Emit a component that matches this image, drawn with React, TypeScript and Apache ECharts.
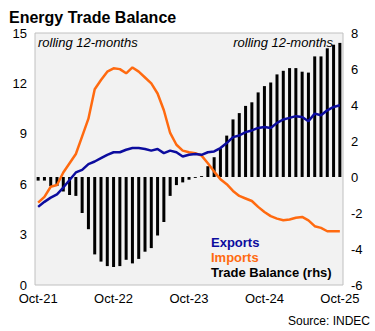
import React, { useEffect, useRef } from "react";
import * as echarts from "echarts";

const months = [
  "Oct-21","Nov-21","Dec-21","Jan-22","Feb-22","Mar-22","Apr-22","May-22","Jun-22","Jul-22","Aug-22","Sep-22",
  "Oct-22","Nov-22","Dec-22","Jan-23","Feb-23","Mar-23","Apr-23","May-23","Jun-23","Jul-23","Aug-23","Sep-23",
  "Oct-23","Nov-23","Dec-23","Jan-24","Feb-24","Mar-24","Apr-24","May-24","Jun-24","Jul-24","Aug-24","Sep-24",
  "Oct-24","Nov-24","Dec-24","Jan-25","Feb-25","Mar-25","Apr-25","May-25","Jun-25","Jul-25","Aug-25","Sep-25",
  "Oct-25",
];

const exportsData = [
  4.65, 4.95, 5.2, 5.4, 5.8, 6.25, 6.7, 6.85, 7.2, 7.35, 7.55, 7.75,
  7.9, 7.9, 8.05, 8.15, 8.15, 8.1, 8.0, 8.1, 7.85, 8.0, 7.9, 7.65,
  7.75, 7.8, 7.75, 7.9, 7.95, 8.15, 8.45, 8.8, 8.9, 9.1, 9.2, 9.35,
  9.4, 9.35, 9.65, 9.85, 9.95, 10.05, 10.0, 9.75, 10.2, 10.1, 10.4, 10.6,
  10.7,
];

const importsData = [
  4.9, 5.25, 5.85, 5.95, 6.7, 7.25, 7.8, 8.85, 9.9, 11.65, 12.2, 12.7,
  12.9, 12.85, 12.6, 12.95, 12.7, 12.35, 12.0, 11.4, 10.4, 9.05, 8.35, 8.0,
  7.9, 7.85, 7.7, 7.25, 6.75, 6.3, 6.0, 5.6, 5.3, 5.15, 5.0, 4.65,
  4.35, 4.1, 3.95, 3.85, 3.9, 4.0, 4.05, 3.85, 3.5, 3.4, 3.2, 3.2,
  3.2,
];

const balanceData = [
  -0.2, -0.2, -0.5, -0.5, -0.8, -1.0, -1.05, -2.0, -2.9, -4.3, -4.7, -4.95,
  -5.0, -4.95, -4.6, -4.8, -4.55, -4.15, -3.95, -3.25, -2.5, -1.05, -0.45, -0.3,
  -0.15, -0.05, 0.05, 0.6, 1.1, 1.6, 2.3, 3.2, 3.55, 3.95, 4.15, 4.7,
  5.05, 5.25, 5.7, 5.9, 6.05, 6.05, 5.85, 5.8, 6.7, 6.7, 7.15, 7.35,
  7.45,
];

const FONT = "Liberation Sans, Arial, sans-serif";
const BLUE = "#0c0c9e";
const ORANGE = "#ff6a10";

export default function App() {
  const ref = useRef<HTMLDivElement>(null);
  useEffect(() => {
    if (!ref.current) return;
    const chart = echarts.init(ref.current, null, { renderer: "svg" });
    chart.setOption({
      animation: false,
      backgroundColor: "#ffffff",
      title: {
        text: "Energy Trade Balance",
        left: 4,
        top: 4,
        textStyle: { fontFamily: FONT, fontSize: 16, fontWeight: "bold", color: "#000" },
      },
      grid: {
        left: 35,
        right: 32,
        top: 33,
        bottom: 46,
        show: true,
        backgroundColor: "#f2f2f2",
        borderColor: "#c0c0c0",
        borderWidth: 1,
      },
      xAxis: {
        type: "category",
        data: months,
        axisLine: { show: false },
        axisTick: { show: false },
        axisLabel: {
          interval: 11,
          margin: 7,
          fontFamily: FONT,
          fontSize: 13,
          color: "#000",
        },
        splitLine: { show: false },
      },
      yAxis: [
        {
          type: "value",
          min: 0,
          max: 15,
          interval: 3,
          axisLine: { show: false },
          axisTick: { show: false },
          splitLine: { show: false },
          axisLabel: { margin: 8, fontFamily: FONT, fontSize: 13, color: "#000" },
        },
        {
          type: "value",
          min: -6,
          max: 8,
          interval: 2,
          position: "right",
          axisLine: { show: false },
          axisTick: { show: false },
          splitLine: { show: false },
          axisLabel: { margin: 8, fontFamily: FONT, fontSize: 13, color: "#000" },
        },
      ],
      series: [
        {
          name: "Trade Balance (rhs)",
          type: "bar",
          yAxisIndex: 1,
          data: balanceData,
          barWidth: 3,
          itemStyle: { color: "#000" },
          z: 1,
        },
        {
          name: "Imports",
          type: "line",
          yAxisIndex: 0,
          data: importsData,
          symbol: "none",
          lineStyle: { color: ORANGE, width: 2.5 },
          z: 3,
        },
        {
          name: "Exports",
          type: "line",
          yAxisIndex: 0,
          data: exportsData,
          symbol: "none",
          lineStyle: { color: BLUE, width: 2.5 },
          z: 4,
        },
      ],
      graphic: [
        {
          type: "text",
          left: 38,
          top: 36,
          z: 10,
          style: { text: "rolling 12-months", fontFamily: FONT, fontSize: 13, fontStyle: "italic", fill: "#000" },
        },
        {
          type: "text",
          right: 42,
          top: 36,
          z: 10,
          style: { text: "rolling 12-months", fontFamily: FONT, fontSize: 13, fontStyle: "italic", fill: "#000" },
        },
        {
          type: "text",
          left: 211,
          top: 236,
          z: 10,
          style: { text: "Exports", fontFamily: FONT, fontSize: 13, fontWeight: "bold", fill: BLUE },
        },
        {
          type: "text",
          left: 211,
          top: 251,
          z: 10,
          style: { text: "Imports", fontFamily: FONT, fontSize: 13, fontWeight: "bold", fill: ORANGE },
        },
        {
          type: "text",
          left: 211,
          top: 266,
          z: 10,
          style: { text: "Trade Balance (rhs)", fontFamily: FONT, fontSize: 13, fontWeight: "bold", fill: "#000" },
        },
        {
          type: "text",
          right: 5,
          top: 315,
          z: 10,
          style: { text: "Source: INDEC", fontFamily: FONT, fontSize: 12, fill: "#000" },
        },
      ],
    });
    return () => chart.dispose();
  }, []);
  return (
    <div
      ref={ref}
      style={{ position: "fixed", left: 0, top: 0, width: 375, height: 331 }}
    />
  );
}
